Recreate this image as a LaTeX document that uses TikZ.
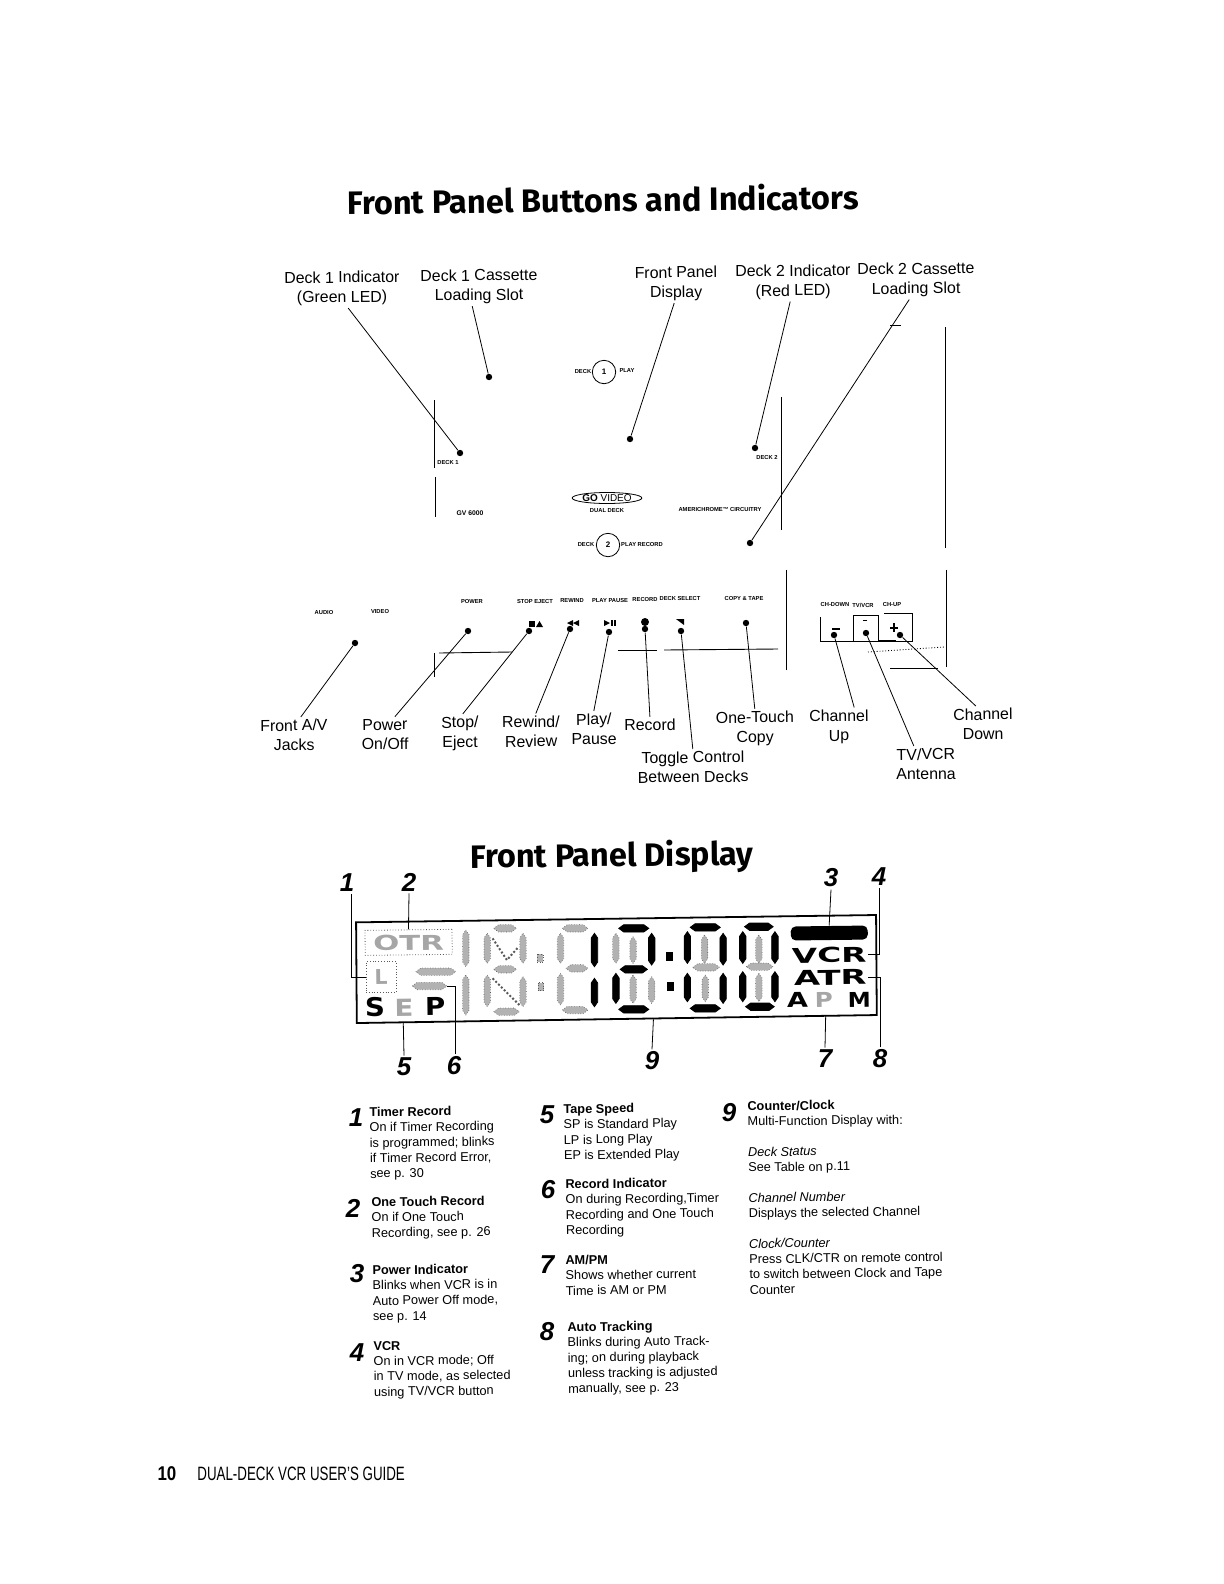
\documentclass[tikz,border=0pt]{standalone}
\usepackage{fontspec}
\usetikzlibrary{shapes.geometric}
\setmainfont{Liberation Sans}
\newfontfamily\titlefont{Fira Sans}
\newfontfamily\lcdfont{DejaVu Sans}

\tikzset{
  pagetitle/.style={font={\titlefont\bfseries\fontsize{16.3}{20}\selectfont}, rotate=0.6, inner sep=0},
  callout/.style={font={\fontsize{8}{9.8}\selectfont}, align=center, rotate=0.6, inner sep=1pt},
  tinytext/.style={font={\bfseries\fontsize{2.9}{3.2}\selectfont}, inner sep=0},
  numeral/.style={font={\bfseries\itshape\fontsize{13}{14}\selectfont}, inner sep=1pt},
  desc/.style={anchor=north west, align=left, rotate=0.7, inner sep=0, font={\fontsize{6.4}{7.7}\selectfont}},
  ptdot/.style={circle, fill=black, inner sep=0, minimum size=3.2bp},
  leader/.style={line width=0.4pt},
  panelline/.style={line width=0.45pt},
  segon/.style={fill=black},
  segoff/.style={fill=black!30, draw=black!65, densely dotted, line width=0.3pt},
  lcdtext/.style={font={\lcdfont\bfseries\fontsize{10.3}{11}\selectfont}, inner sep=0.5pt, rotate=0.7},
  lcdbox/.style={draw=black!65, densely dotted, line width=0.4pt, inner sep=0},
}

% segment of the display: style, from, to, position
\newcommand{\lcdh}[4]{\filldraw[#1] (#2,#4) -- (#2+14,#4-11) -- (#3-14,#4-11) -- (#3,#4) -- (#3-14,#4+11) -- (#2+14,#4+11) -- cycle;}
\newcommand{\lcdv}[4]{\filldraw[#1] (#2,#3) -- (#2+9,#3+14) -- (#2+9,#4-14) -- (#2,#4) -- (#2-9,#4-14) -- (#2-9,#3+14) -- cycle;}
\newcommand{\lcddot}[3]{\filldraw[#1] (#2-8,#3-12) rectangle (#2+8,#3+12);}

\begin{document}
\begin{tikzpicture}[x=0.5bp, y=-0.5bp]
  \useasboundingbox (0,0) rectangle (1224,1584);

  % Titles
  \node[pagetitle] (titleButtons) at (603,199) {Front Panel Buttons and Indicators};
  \node[pagetitle] (titleDisplay) at (612,857) {Front Panel Display};

  % Panel outline
  \draw[panelline] (434,400) -- (434,468);
  \draw[panelline] (435,477) -- (435,517);
  \draw[panelline] (781,397) -- (781,530);
  \draw[panelline] (945,327) -- (945,548);
  \draw[panelline] (890,325) -- (901,325);
  \draw[panelline] (439,653) -- (512,652);
  \draw[panelline] (618,650) -- (657,650);
  \draw[panelline] (664,650) -- (778,649);
  \draw[panelline] (434,653) -- (434,677);
  \draw[panelline] (786,570) -- (786,670);
  \draw[panelline] (946,570) -- (946,667);
  \draw[panelline] (890,668) -- (938,668);
  \draw[panelline, densely dotted] (868,652) -- (944,647);
  \draw[panelline] (820,617) -- (820,641) -- (912,641) -- (912,613) -- (884,613);
  \draw[panelline] (853.5,641) -- (853.5,615) -- (878,615) -- (878,641);
  \draw[line width=1pt] (878,641) -- (896,641);

  % Deck controls
  \node[circle, draw, line width=0.4pt, minimum size=11.7bp, inner sep=0, font={\bfseries\fontsize{4}{5}\selectfont}] (dialOne) at (604,372) {1};
  \node[circle, draw, line width=0.4pt, minimum size=11.7bp, inner sep=0, font={\bfseries\fontsize{4}{5}\selectfont}] (dialTwo) at (608,545) {2};
  \node[tinytext] (txtDeckA) at (583,372) {DECK};
  \node[tinytext] (txtPlayA) at (627,371) {PLAY};
  \node[tinytext] (txtDeckB) at (586,545) {DECK};
  \node[tinytext] (txtPlayB) at (642,545) {PLAY RECORD};
  \node[ellipse, draw, line width=0.4pt, minimum width=27bp, minimum height=5.5bp, inner sep=0, font={\fontsize{5}{5}\selectfont}] (logoGo) at (607,498) {\textbf{GO} VIDEO};
  \node[tinytext] (txtDual) at (607,511) {DUAL DECK};
  \node[tinytext] (txtChrome) at (720,510) {AMERICHROME™ CIRCUITRY};
  \node[tinytext] (txtDeckTwo) at (767,458) {DECK 2};
  \node[tinytext] (txtDeckOne) at (448,463) {DECK 1};
  \node[tinytext, font={\bfseries\fontsize{3.4}{4}\selectfont}] (txtModel) at (470,513) {GV 6000};

  % Button names
  \node[tinytext] (txtAudio) at (324,613) {AUDIO};
  \node[tinytext] (txtVideo) at (380,612) {VIDEO};
  \node[tinytext] (txtPower) at (472,602) {POWER};
  \node[tinytext] (txtStop) at (535,602) {STOP EJECT};
  \node[tinytext] (txtRewind) at (572,601) {REWIND};
  \node[tinytext] (txtPlay) at (610,601) {PLAY PAUSE};
  \node[tinytext] (txtRecord) at (645,600) {RECORD};
  \node[tinytext] (txtSelect) at (680,599) {DECK SELECT};
  \node[tinytext] (txtCopy) at (744,599) {COPY \& TAPE};
  \node[tinytext] (txtChDown) at (835,605) {CH-DOWN};
  \node[tinytext] (txtTvVcr) at (863,605) {TV/VCR};
  \node[tinytext] (txtChUp) at (892,605) {CH-UP};

  % Button symbols
  \fill (529,621) rectangle (535,627);
  \fill (536,627) -- (539.5,621) -- (543,627) -- cycle;
  \fill (573,620) -- (567,623) -- (573,626) -- cycle;
  \fill (579,620) -- (573,623) -- (579,626) -- cycle;
  \fill (604,620) -- (610,623) -- (604,626) -- cycle;
  \fill (611,620) rectangle (612.5,626);
  \fill (614,620) rectangle (615.5,626);
  \node[ptdot, minimum size=4bp] (symRecord) at (645,622) {};
  \fill (676,619) -- (684,619) -- (684,625) -- cycle;
  \fill (832,628) rectangle (840,630);
  \fill (890,626.5) rectangle (898,628.5);
  \fill (893,623) rectangle (895,632);
  \fill (863,619.5) rectangle (867,620.5);

  % Points
  \node[ptdot] (dDeckOneInd) at (460,453) {};
  \node[ptdot] (dDeckOneSlot) at (489,377) {};
  \node[ptdot] (dDisplay) at (630,439) {};
  \node[ptdot] (dDeckTwoInd) at (755,448) {};
  \node[ptdot] (dDeckTwoSlot) at (750,543) {};
  \node[ptdot] (dJacks) at (355,643) {};
  \node[ptdot] (dPower) at (468,631) {};
  \node[ptdot] (dStop) at (529,631) {};
  \node[ptdot] (dRewind) at (570,629) {};
  \node[ptdot] (dPlay) at (609,632) {};
  \node[ptdot] (dRecord) at (645,629) {};
  \node[ptdot] (dToggle) at (681,631) {};
  \node[ptdot] (dCopy) at (746,623) {};
  \node[ptdot] (dChUp) at (834,635) {};
  \node[ptdot] (dAntenna) at (866,633) {};
  \node[ptdot] (dChDown) at (900,635) {};

  % Labels
  \node[callout] (lDeckOneInd) at (342,288.5) {Deck 1 Indicator\\(Green LED)};
  \node[callout] (lDeckOneSlot) at (479,286.5) {Deck 1 Cassette\\Loading Slot};
  \node[callout] (lDisplay) at (676,283.5) {Front Panel\\Display};
  \node[callout] (lDeckTwoInd) at (793,282) {Deck 2 Indicator\\(Red LED)};
  \node[callout] (lDeckTwoSlot) at (916,280) {Deck 2 Cassette\\Loading Slot};
  \node[callout] (lJacks) at (294,735) {Front A/V\\Jacks};
  \node[callout] (lPower) at (385,734.5) {Power\\On/Off};
  \node[callout] (lStop) at (460,733.5) {Stop/\\Eject};
  \node[callout] (lRewind) at (531,731.5) {Rewind/\\Review};
  \node[callout] (lPlay) at (594,729) {Play/\\Pause};
  \node[callout] (lRecord) at (650,725) {Record};
  \node[callout] (lCopy) at (755,728.5) {One-Touch\\Copy};
  \node[callout] (lChUp) at (839,727) {Channel\\Up};
  \node[callout] (lChDown) at (983,724) {Channel\\Down};
  \node[callout] (lToggle) at (693,767) {Toggle Control\\Between Decks};
  \node[callout] (lAntenna) at (926,764) {TV/VCR\\Antenna};

  % Leaders
  \draw[leader] ([xshift=3bp]lDeckOneInd.south) -- (dDeckOneInd);
  \draw[leader] ([xshift=-3.5bp]lDeckOneSlot.south) -- (dDeckOneSlot);
  \draw[leader] ([xshift=-1bp]lDisplay.south) -- (dDisplay);
  \draw[leader] ([xshift=-1.5bp]lDeckTwoInd.south) -- (dDeckTwoInd);
  \draw[leader] ([xshift=-3.5bp]lDeckTwoSlot.south) -- (dDeckTwoSlot);
  \draw[leader] ([xshift=3.5bp]lJacks.north) -- (dJacks);
  \draw[leader] ([xshift=5bp]lPower.north) -- (dPower);
  \draw[leader] ([xshift=1.5bp]lStop.north) -- (dStop);
  \draw[leader] ([xshift=2.5bp]lRewind.north) -- (dRewind);
  \draw[leader] (lPlay.north) -- (dPlay);
  \draw[leader] (lRecord.north) -- (dRecord);
  \draw[leader] (lToggle.north) -- (dToggle);
  \draw[leader] (lCopy.north) -- (dCopy);
  \draw[leader] ([xshift=7.7bp]lChUp.north) -- (dChUp);
  \draw[leader] ([xshift=-6bp]lAntenna.north) -- (dAntenna);
  \draw[leader] ([xshift=-3.5bp]lChDown.north) -- (dChDown);

  % Numbers round the display
  \node[numeral] (nOne) at (347,883) {1};
  \node[numeral] (nTwo) at (409,882) {2};
  \node[numeral] (nThree) at (831,878) {3};
  \node[numeral] (nFour) at (879,877) {4};
  \node[numeral] (nFive) at (404,1067) {5};
  \node[numeral] (nSix) at (454,1066) {6};
  \node[numeral] (nNine) at (652,1061) {9};
  \node[numeral] (nSeven) at (825,1059) {7};
  \node[numeral] (nEight) at (880,1059) {8};

  % Display
  \begin{scope}[shift={(330,850)}, x=0.1787bp, y=-0.1667bp]
    \draw[line width=0.9pt] (73,217) -- (1528,195) -- (1530,495) -- (75,519) -- cycle;

    \node[lcdbox, minimum width=43.5bp, minimum height=12.5bp, rotate=0.7] (lcdOTR) at (220,277) {};
    \node[lcdbox, minimum width=15bp, minimum height=15.5bp] (lcdL) at (143,381) {};
    \node[lcdtext, text=black!35] (lcdOTRtxt) at (220,278) {\scalebox{1.5}[1]{OTR}};
    \node[lcdtext, text=black!35] (lcdLtxt) at (143,381) {L};
    \lcdh{segoff}{240}{352}{365}
    \lcdh{segoff}{230}{327}{408}
    \coordinate (barRec) at (327,408);
    \node[lcdtext] (lcdS) at (126,472) {\scalebox{1.35}[1.25]{S}};
    \node[lcdtext, text=black!35] (lcdE) at (207,472) {\scalebox{1.35}[1.15]{E}};
    \node[lcdtext] (lcdP) at (294,470) {\scalebox{1.35}[1.2]{P}};

    % first bar
    \lcdv{segoff}{380}{240}{350} \lcdv{segoff}{380}{375}{495}
    % second place
    \lcdh{segoff}{458}{522}{235} \lcdh{segoff}{458}{522}{358} \lcdh{segoff}{458}{530}{485}
    \lcdv{segoff}{440}{250}{340} \lcdv{segoff}{440}{375}{470}
    \lcdv{segoff}{540}{250}{340} \lcdv{segoff}{540}{380}{470}
    \draw[segoff, fill=none, line width=1pt] (455,265) -- (495,330) -- (528,290);
    \draw[segoff, fill=none, line width=1pt] (455,385) -- (530,465);
    \lcddot{segoff}{588}{325} \lcddot{segoff}{590}{410}
    % third place
    \lcdh{segoff}{650}{722}{235} \lcdh{segoff}{660}{722}{355} \lcdh{segoff}{650}{722}{480}
    \lcdv{segoff}{645}{250}{340} \lcdv{segoff}{645}{370}{465}
    \lcdv{segon}{740}{250}{350} \lcdv{segon}{740}{385}{470}
    % fourth place
    \lcdh{segon}{808}{892}{235} \lcdh{segon}{812}{888}{358} \lcdh{segon}{808}{892}{478}
    \lcdv{segoff}{800}{250}{340} \lcdv{segoff}{848}{260}{340} \lcdv{segon}{900}{250}{345}
    \lcdv{segon}{800}{370}{460} \lcdv{segoff}{848}{375}{460} \lcdv{segoff}{900}{380}{460}
    \lcddot{segon}{950}{320} \lcddot{segon}{952}{410}
    % fifth place
    \lcdh{segon}{1008}{1092}{232} \lcdh{segoff}{1015}{1090}{352} \lcdh{segon}{1008}{1092}{475}
    \lcdv{segon}{1000}{245}{340} \lcdv{segoff}{1048}{255}{340} \lcdv{segon}{1100}{250}{345}
    \lcdv{segon}{1000}{370}{455} \lcdv{segoff}{1050}{375}{455} \lcdv{segon}{1100}{370}{460}
    % sixth place
    \lcdh{segon}{1160}{1240}{230} \lcdh{segoff}{1165}{1240}{350} \lcdh{segon}{1163}{1243}{470}
    \lcdv{segon}{1155}{245}{340} \lcdv{segoff}{1200}{255}{340} \lcdv{segon}{1245}{245}{340}
    \lcdv{segon}{1155}{365}{455} \lcdv{segoff}{1200}{370}{455} \lcdv{segon}{1245}{365}{455}

    \node[fill=black, rounded corners=2.5bp, minimum width=38.5bp, minimum height=7bp, inner sep=0, rotate=0.7] (lcdPower) at (1397,249) {};
    \node[lcdtext] (lcdVCR) at (1397,316) {\scalebox{1.6}[1]{VCR}};
    \node[lcdtext] (lcdATR) at (1400,382) {\scalebox{1.65}[1]{ATR}};
    \node[lcdtext] (lcdA) at (1308,450) {\scalebox{1.32}[1]{A}};
    \node[lcdtext, text=black!35] (lcdPm) at (1382,449) {\scalebox{1.2}[1]{P}};
    \node[lcdtext] (lcdM) at (1481,450) {\scalebox{1.13}[1]{M}};

    % free ends on the frame
    \coordinate (frameFive) at (205,517);
    \coordinate (frameNine) at (905,508);
    \coordinate (frameSeven) at (1387,498);

    \draw[leader] ([xshift=2bp]nOne.south) |- (lcdL.west);
    \draw[leader] (nTwo.south) -- (lcdOTR.north);
    \draw[leader] (nThree.south) -- (lcdPower.north);
    \draw[leader] (nFour.south) |- (lcdVCR.east);
    \draw[leader] (nFive.north) -- (frameFive);
    \draw[leader] ([xshift=0.5bp]nSix.north) |- (barRec);
    \draw[leader] (nNine.north) -- (frameNine);
    \draw[leader] (nSeven.north) -- (frameSeven);
    \draw[leader] (nEight.north) |- (lcdATR.east);
  \end{scope}

  % Descriptions, left column
  \node[numeral] (keyOne) at (356,1118) {1};
  \node[desc] (descOne) at (369,1107) {\textbf{Timer Record}\\On if Timer Recording\\is programmed; blinks\\if Timer Record Error,\\see p. 30};
  \node[numeral] (keyTwo) at (353,1208) {2};
  \node[desc] (descTwo) at (371,1197) {\textbf{One Touch Record}\\On if One Touch\\Recording, see p. 26};
  \node[numeral] (keyThree) at (357,1274) {3};
  \node[desc] (descThree) at (372,1265) {\textbf{Power Indicator}\\Blinks when VCR is in\\Auto Power Off mode,\\see p. 14};
  \node[numeral] (keyFour) at (357,1353) {4};
  \node[desc] (descFour) at (373,1341) {\textbf{VCR}\\On in VCR mode; Off\\in TV mode, as selected\\using TV/VCR button};

  % Descriptions, middle column
  \node[numeral] (keyFive) at (547,1115) {5};
  \node[desc] (descFive) at (563,1104) {\textbf{Tape Speed}\\SP is Standard Play\\LP is Long Play\\EP is Extended Play};
  \node[numeral] (keySix) at (548,1190) {6};
  \node[desc] (descSix) at (565,1179) {\textbf{Record Indicator}\\On during Recording,Timer\\Recording and One Touch\\Recording};
  \node[numeral] (keySeven) at (547,1265) {7};
  \node[desc] (descSeven) at (565,1255) {\textbf{AM/PM}\\Shows whether current\\Time is AM or PM};
  \node[numeral] (keyEight) at (547,1332) {8};
  \node[desc] (descEight) at (567,1322) {\textbf{Auto Tracking}\\Blinks during Auto Track-\\ing; on during playback\\unless tracking is adjusted\\manually, see p. 23};

  % Descriptions, right column
  \node[numeral] (keyNine) at (729,1113) {9};
  \node[desc] (descNine) at (747,1101) {\textbf{Counter/Clock}\\Multi-Function Display with:\\[7.6bp]\textit{Deck Status}\\See Table on p.11\\[7.6bp]\textit{Channel Number}\\Displays the selected Channel\\[7.6bp]\textit{Clock/Counter}\\Press CLK/CTR on remote control\\to switch between Clock and Tape\\Counter};

  % Footer
  \node[font={\bfseries\fontsize{10}{11}\selectfont}, inner sep=0] (footNum) at (167,1474) {\scalebox{0.85}[1]{10}};
  \node[font={\fontsize{9.7}{11}\selectfont}, inner sep=0, anchor=west] (footText) at (197,1474) {\scalebox{0.69}[1]{DUAL-DECK VCR USER'S GUIDE}};
\end{tikzpicture}
\end{document}
